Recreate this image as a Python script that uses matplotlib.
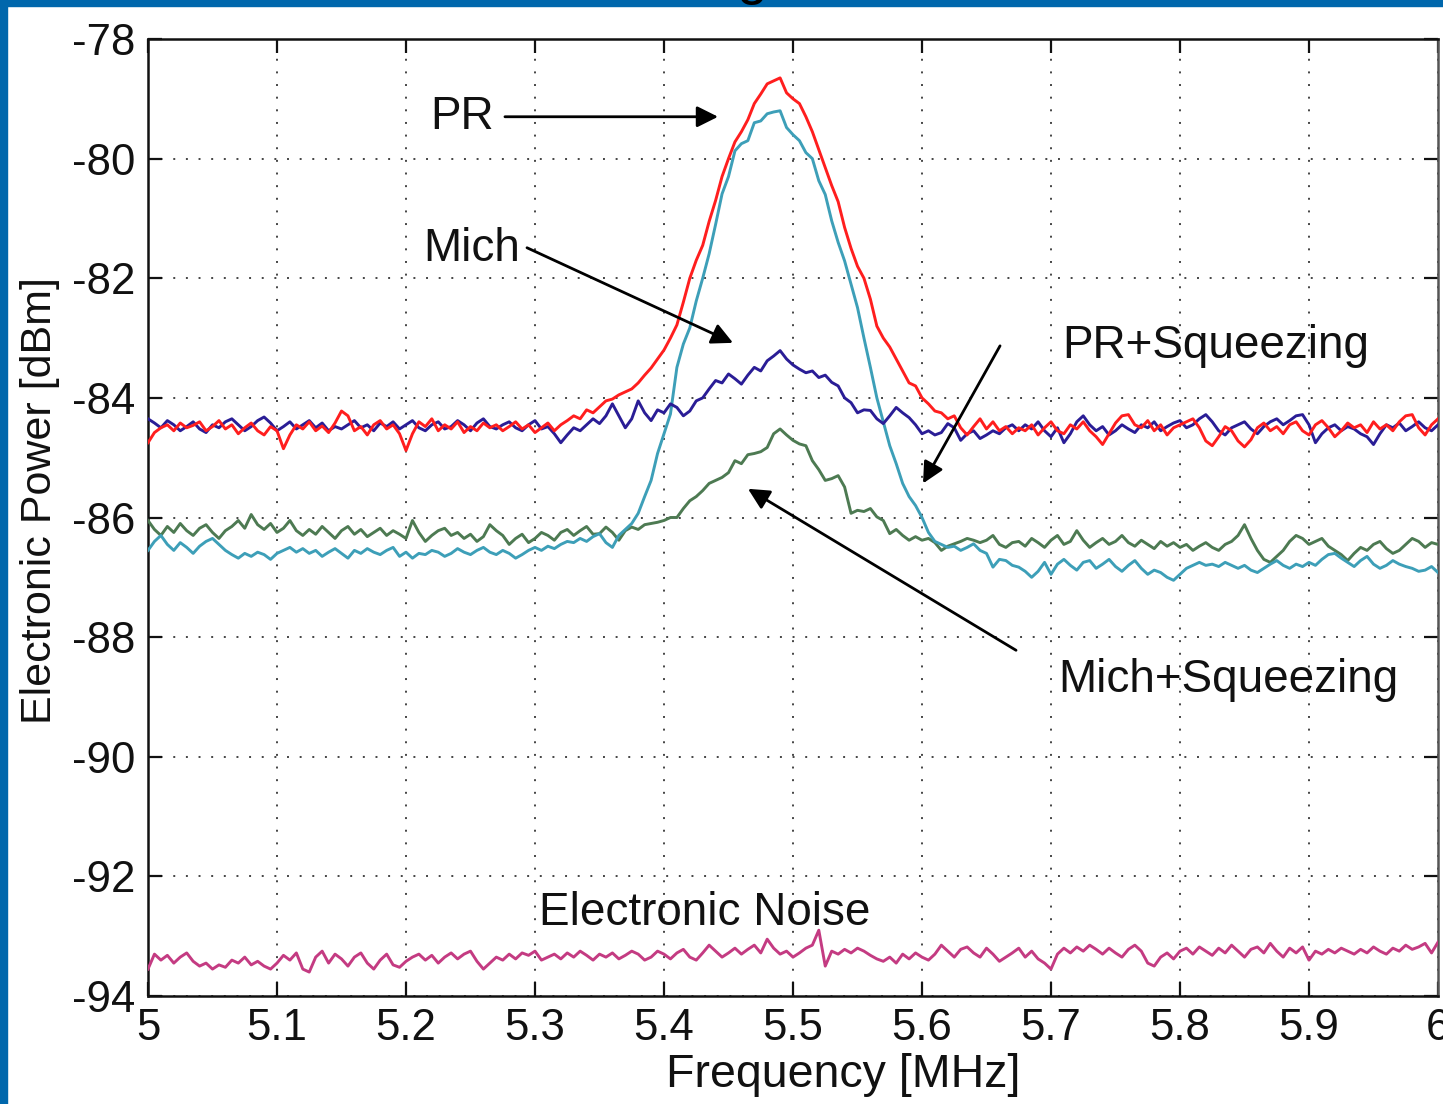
import numpy as np
import matplotlib
matplotlib.use('Agg')
import matplotlib.pyplot as plt
from matplotlib.patches import Rectangle

# ---------------- data ----------------
freq_start, freq_stop, n_points = 5.0, 6.0, 201

pr = [
    -84.75, -84.58, -84.50, -84.45, -84.55, -84.42, -84.50, -84.46, -84.40, -84.55,
    -84.48, -84.38, -84.52, -84.45, -84.60, -84.50, -84.42, -84.55, -84.62, -84.48,
    -84.55, -84.85, -84.62, -84.45, -84.52, -84.40, -84.55, -84.47, -84.58, -84.42,
    -84.22, -84.30, -84.55, -84.48, -84.62, -84.45, -84.38, -84.52, -84.45, -84.60,
    -84.88, -84.60, -84.40, -84.48, -84.35, -84.55, -84.45, -84.52, -84.40, -84.58,
    -84.48, -84.55, -84.42, -84.50, -84.45, -84.55, -84.48, -84.40, -84.52, -84.45,
    -84.58, -84.50, -84.42, -84.55, -84.45, -84.38, -84.30, -84.35, -84.20, -84.25,
    -84.15, -84.05, -84.02, -83.95, -83.90, -83.85, -83.75, -83.62, -83.50, -83.35,
    -83.20, -83.00, -82.78, -82.40, -82.00, -81.70, -81.45, -81.05, -80.70, -80.30,
    -80.00, -79.72, -79.55, -79.35, -79.08, -78.92, -78.75, -78.70, -78.65, -78.90,
    -79.00, -79.08, -79.30, -79.55, -79.85, -80.15, -80.45, -80.72, -81.15, -81.50,
    -81.80, -82.00, -82.35, -82.80, -83.00, -83.15, -83.35, -83.55, -83.75, -83.80,
    -84.00, -84.10, -84.22, -84.25, -84.35, -84.30, -84.50, -84.62, -84.48, -84.35,
    -84.52, -84.40, -84.55, -84.48, -84.60, -84.50, -84.55, -84.45, -84.62, -84.50,
    -84.40, -84.55, -84.60, -84.45, -84.52, -84.40, -84.55, -84.65, -84.78, -84.60,
    -84.42, -84.30, -84.28, -84.45, -84.50, -84.38, -84.55, -84.45, -84.62, -84.50,
    -84.45, -84.40, -84.35, -84.50, -84.72, -84.80, -84.65, -84.48, -84.55, -84.72,
    -84.82, -84.70, -84.50, -84.42, -84.55, -84.48, -84.60, -84.45, -84.40, -84.55,
    -84.62, -84.45, -84.38, -84.50, -84.65, -84.55, -84.42, -84.50, -84.45, -84.58,
    -84.40, -84.52, -84.45, -84.55, -84.40, -84.30, -84.28, -84.50, -84.62, -84.45,
    -84.35,
]

mich = [
    -84.35, -84.42, -84.50, -84.38, -84.45, -84.55, -84.48, -84.40, -84.52, -84.58,
    -84.45, -84.50, -84.40, -84.35, -84.45, -84.55, -84.48, -84.38, -84.32, -84.42,
    -84.55, -84.48, -84.40, -84.52, -84.45, -84.38, -84.50, -84.42, -84.55, -84.48,
    -84.52, -84.45, -84.38, -84.50, -84.45, -84.55, -84.42, -84.48, -84.40, -84.52,
    -84.45, -84.38, -84.50, -84.55, -84.45, -84.40, -84.52, -84.48, -84.38, -84.45,
    -84.55, -84.42, -84.35, -84.48, -84.52, -84.45, -84.40, -84.50, -84.55, -84.45,
    -84.38, -84.52, -84.48, -84.60, -84.75, -84.62, -84.50, -84.55, -84.45, -84.35,
    -84.43, -84.30, -84.10, -84.30, -84.50, -84.35, -84.05, -84.25, -84.38, -84.20,
    -84.25, -84.10, -84.16, -84.30, -84.22, -84.05, -84.00, -83.85, -83.71, -83.75,
    -83.60, -83.68, -83.77, -83.62, -83.49, -83.55, -83.38, -83.30, -83.21, -83.35,
    -83.45, -83.52, -83.58, -83.55, -83.66, -83.62, -83.74, -83.80, -84.00, -84.08,
    -84.25, -84.20, -84.21, -84.35, -84.43, -84.30, -84.16, -84.25, -84.33, -84.45,
    -84.60, -84.55, -84.62, -84.58, -84.43, -84.50, -84.71, -84.60, -84.55, -84.68,
    -84.62, -84.55, -84.60, -84.50, -84.45, -84.55, -84.45, -84.52, -84.40, -84.55,
    -84.65, -84.50, -84.75, -84.60, -84.40, -84.30, -84.45, -84.55, -84.48, -84.62,
    -84.55, -84.45, -84.52, -84.58, -84.45, -84.50, -84.40, -84.55, -84.48, -84.42,
    -84.38, -84.50, -84.45, -84.35, -84.28, -84.40, -84.55, -84.62, -84.50, -84.45,
    -84.40, -84.52, -84.60, -84.48, -84.40, -84.35, -84.45, -84.38, -84.30, -84.28,
    -84.45, -84.75, -84.60, -84.50, -84.45, -84.55, -84.48, -84.52, -84.60, -84.65,
    -84.78, -84.60, -84.45, -84.50, -84.42, -84.55, -84.48, -84.40, -84.50, -84.55,
    -84.45,
]

mich_sq = [
    -86.05, -86.20, -86.30, -86.15, -86.25, -86.10, -86.22, -86.30, -86.18, -86.12,
    -86.25, -86.35, -86.22, -86.15, -86.05, -86.18, -85.95, -86.12, -86.20, -86.10,
    -86.25, -86.18, -86.05, -86.22, -86.30, -86.20, -86.28, -86.15, -86.25, -86.35,
    -86.22, -86.15, -86.28, -86.20, -86.32, -86.25, -86.18, -86.30, -86.22, -86.28,
    -86.35, -86.05, -86.25, -86.40, -86.30, -86.22, -86.18, -86.30, -86.25, -86.35,
    -86.28, -86.40, -86.32, -86.12, -86.22, -86.30, -86.45, -86.35, -86.28, -86.42,
    -86.35, -86.25, -86.30, -86.38, -86.25, -86.20, -86.30, -86.22, -86.15, -86.28,
    -86.27, -86.16, -86.25, -86.38, -86.22, -86.16, -86.20, -86.12, -86.10, -86.08,
    -86.05, -86.00, -86.00, -85.85, -85.72, -85.65, -85.55, -85.43, -85.38, -85.33,
    -85.25, -85.05, -85.10, -84.95, -84.93, -84.90, -84.83, -84.60, -84.52, -84.62,
    -84.71, -84.77, -84.80, -85.05, -85.20, -85.38, -85.35, -85.30, -85.49, -85.93,
    -85.88, -85.90, -85.85, -85.99, -86.05, -86.27, -86.20, -86.30, -86.38, -86.32,
    -86.38, -86.35, -86.42, -86.55, -86.48, -86.44, -86.40, -86.35, -86.38, -86.42,
    -86.38, -86.30, -86.45, -86.50, -86.42, -86.40, -86.48, -86.35, -86.42, -86.50,
    -86.38, -86.30, -86.45, -86.40, -86.22, -86.38, -86.50, -86.42, -86.35, -86.45,
    -86.40, -86.30, -86.42, -86.48, -86.38, -86.45, -86.52, -86.40, -86.48, -86.42,
    -86.50, -86.45, -86.55, -86.48, -86.42, -86.50, -86.55, -86.45, -86.40, -86.30,
    -86.12, -86.35, -86.55, -86.70, -86.75, -86.65, -86.55, -86.40, -86.30, -86.35,
    -86.45, -86.40, -86.35, -86.48, -86.55, -86.62, -86.72, -86.60, -86.50, -86.55,
    -86.45, -86.40, -86.52, -86.60, -86.55, -86.45, -86.35, -86.40, -86.50, -86.42,
    -86.45,
]

pr_sq = [
    -86.55, -86.40, -86.30, -86.45, -86.55, -86.42, -86.50, -86.60, -86.48, -86.40,
    -86.35, -86.45, -86.55, -86.62, -86.68, -86.60, -86.65, -86.58, -86.62, -86.70,
    -86.60, -86.55, -86.50, -86.58, -86.52, -86.60, -86.55, -86.65, -86.58, -86.52,
    -86.60, -86.68, -86.55, -86.60, -86.52, -86.58, -86.62, -86.55, -86.50, -86.65,
    -86.58, -86.68, -86.60, -86.62, -86.55, -86.58, -86.65, -86.60, -86.52, -86.58,
    -86.62, -86.55, -86.50, -86.58, -86.62, -86.55, -86.60, -86.68, -86.62, -86.55,
    -86.50, -86.55, -86.48, -86.52, -86.45, -86.40, -86.42, -86.35, -86.40, -86.32,
    -86.27, -86.42, -86.50, -86.30, -86.20, -86.10, -85.93, -85.65, -85.38, -84.93,
    -84.60, -84.27, -83.49, -83.10, -82.83, -82.38, -82.00, -81.59, -81.10, -80.59,
    -80.30, -79.87, -79.75, -79.70, -79.40, -79.37, -79.25, -79.22, -79.20, -79.48,
    -79.60, -79.70, -79.90, -80.00, -80.37, -80.60, -81.04, -81.40, -81.71, -82.10,
    -82.49, -83.00, -83.49, -84.00, -84.40, -84.80, -85.10, -85.43, -85.65, -85.80,
    -86.00, -86.25, -86.40, -86.45, -86.50, -86.48, -86.55, -86.50, -86.44, -86.55,
    -86.60, -86.83, -86.70, -86.72, -86.80, -86.83, -86.90, -87.00, -86.90, -86.75,
    -86.95, -86.78, -86.70, -86.80, -86.88, -86.75, -86.72, -86.85, -86.78, -86.70,
    -86.82, -86.90, -86.80, -86.72, -86.85, -86.95, -86.88, -86.92, -87.00, -87.05,
    -86.95, -86.85, -86.80, -86.75, -86.80, -86.78, -86.82, -86.75, -86.80, -86.85,
    -86.80, -86.88, -86.92, -86.85, -86.78, -86.72, -86.80, -86.85, -86.78, -86.82,
    -86.75, -86.80, -86.70, -86.62, -86.60, -86.68, -86.75, -86.82, -86.72, -86.65,
    -86.78, -86.85, -86.80, -86.72, -86.78, -86.82, -86.85, -86.90, -86.88, -86.82,
    -86.92,
]

noise = [
    -93.55, -93.30, -93.40, -93.32, -93.45, -93.35, -93.28, -93.42, -93.50, -93.45,
    -93.55, -93.48, -93.52, -93.40, -93.45, -93.35, -93.48, -93.42, -93.50, -93.55,
    -93.45, -93.32, -93.40, -93.28, -93.55, -93.60, -93.35, -93.25, -93.45, -93.30,
    -93.38, -93.50, -93.35, -93.28, -93.45, -93.55, -93.40, -93.30, -93.48, -93.52,
    -93.42, -93.35, -93.30, -93.40, -93.32, -93.45, -93.35, -93.28, -93.38, -93.30,
    -93.25, -93.42, -93.55, -93.45, -93.35, -93.40, -93.30, -93.38, -93.28, -93.32,
    -93.25, -93.40, -93.35, -93.30, -93.38, -93.28, -93.35, -93.25, -93.32, -93.40,
    -93.30, -93.35, -93.28, -93.38, -93.32, -93.25, -93.30, -93.40, -93.35, -93.25,
    -93.30, -93.38, -93.28, -93.22, -93.35, -93.40, -93.28, -93.15, -93.25, -93.35,
    -93.28, -93.20, -93.30, -93.22, -93.15, -93.28, -93.05, -93.20, -93.30, -93.25,
    -93.35, -93.28, -93.20, -93.15, -92.90, -93.50, -93.25, -93.30, -93.22, -93.28,
    -93.20, -93.25, -93.32, -93.38, -93.42, -93.35, -93.45, -93.30, -93.38, -93.28,
    -93.35, -93.40, -93.30, -93.15, -93.25, -93.35, -93.22, -93.18, -93.28, -93.35,
    -93.20, -93.30, -93.42, -93.35, -93.28, -93.20, -93.35, -93.25, -93.38, -93.45,
    -93.55, -93.30, -93.20, -93.28, -93.18, -93.25, -93.15, -93.22, -93.30, -93.20,
    -93.28, -93.35, -93.22, -93.15, -93.25, -93.45, -93.50, -93.35, -93.28, -93.38,
    -93.25, -93.20, -93.30, -93.18, -93.25, -93.32, -93.20, -93.28, -93.15, -93.25,
    -93.35, -93.22, -93.18, -93.28, -93.12, -93.25, -93.35, -93.20, -93.28, -93.18,
    -93.40, -93.25, -93.30, -93.22, -93.28, -93.20, -93.25, -93.30, -93.22, -93.28,
    -93.18, -93.25, -93.30, -93.20, -93.25, -93.15, -93.22, -93.18, -93.12, -93.28,
    -93.10,
]

x_ticks = [5.0, 5.1, 5.2, 5.3, 5.4, 5.5, 5.6, 5.7, 5.8, 5.9, 6.0]
x_tick_labels = ['5', '5.1', '5.2', '5.3', '5.4', '5.5', '5.6', '5.7', '5.8', '5.9', '6']
y_ticks = [-94, -92, -90, -88, -86, -84, -82, -80, -78]
y_tick_labels = ['-94', '-92', '-90', '-88', '-86', '-84', '-82', '-80', '-78']

# ---------------- figure ----------------
plt.rcParams['font.family'] = ['Liberation Sans', 'DejaVu Sans']
plt.rcParams['axes.unicode_minus'] = False

W, H = 1443, 1104
fig = plt.figure(figsize=(W / 100, H / 100), dpi=100)
fig.patch.set_facecolor('white')
ax = fig.add_axes([148 / W, 1 - 996 / H, (1438 - 148) / W, (996 - 39) / H])

freq = np.linspace(freq_start, freq_stop, n_points)
lw = 2.1
ax.plot(freq, mich_sq, color='#4d7a52', lw=lw, zorder=3)
ax.plot(freq, pr_sq, color='#3d9fb8', lw=lw, zorder=3)
ax.plot(freq, mich, color='#2a1d96', lw=lw, zorder=3)
ax.plot(freq, pr, color='#ff1e1e', lw=lw, zorder=3)
ax.plot(freq, noise, color='#c43b82', lw=lw, zorder=3)

ax.set_xlim(5, 6)
ax.set_ylim(-94, -78)
ax.set_xticks(x_ticks)
ax.set_xticklabels(x_tick_labels)
ax.set_yticks(y_ticks)
ax.set_yticklabels(y_tick_labels)
ax.tick_params(direction='in', length=10, width=1.6, top=True, right=True,
               labelsize=31.5, pad=9, colors='#111111')
ax.set_axisbelow(True)
ax.grid(True, linestyle=(0, (1, 5.5)), color='#444444', lw=1.4)
for s in ax.spines.values():
    s.set_linewidth(1.8)
    s.set_color('#111111')
ax.spines['right'].set_color('#555555')

# axis labels
fig.text(40 / W, 1 - 501 / H, 'Electronic Power [dBm]', rotation=90,
         ha='center', va='center', fontsize=31, color='#111111')
fig.text(843 / W, 1 - 1075 / H, 'Frequency [MHz]', ha='center', va='center',
         fontsize=33.5, color='#111111')

# annotations
txt_kw = dict(fontsize=33, color='#111111', va='baseline', ha='left', zorder=5)
ax.text(5.219, -79.50, 'PR', **txt_kw)
ax.text(5.213, -81.71, 'Mich', **txt_kw)
ax.text(5.7085, -83.34, 'PR+Squeezing', **txt_kw)
ax.text(5.706, -88.92, 'Mich+Squeezing', **txt_kw)
ax.text(5.303, -92.81, 'Electronic Noise', **txt_kw)

arrow_kw = dict(arrowstyle='-|>', color='black', lw=2.0, mutation_scale=32,
                shrinkA=0, shrinkB=0)
ax.annotate('', xy=(5.4419, -79.30), xytext=(5.2767, -79.30), arrowprops=arrow_kw, zorder=5)
ax.annotate('', xy=(5.4535, -83.08), xytext=(5.2938, -81.49), arrowprops=arrow_kw, zorder=5)
ax.annotate('', xy=(5.6008, -85.43), xytext=(5.6605, -83.13), arrowprops=arrow_kw, zorder=5)
ax.annotate('', xy=(5.4651, -85.52), xytext=(5.6729, -88.22), arrowprops=arrow_kw, zorder=5)

# blue slide frame
frame_c = '#0067ac'
fig.add_artist(Rectangle((0, 0), 7 / W, 1, transform=fig.transFigure,
                         color=frame_c, zorder=10))
fig.add_artist(Rectangle((0, 1 - 6 / H), 1, 6 / H, transform=fig.transFigure,
                         color=frame_c, zorder=10))
# cut-off title glyph at the top
fig.text(752 / W, 1 + 7 / H, 'g', fontsize=40, color='black', ha='center',
         va='baseline', zorder=11)

fig.savefig('out.png', dpi=100)
